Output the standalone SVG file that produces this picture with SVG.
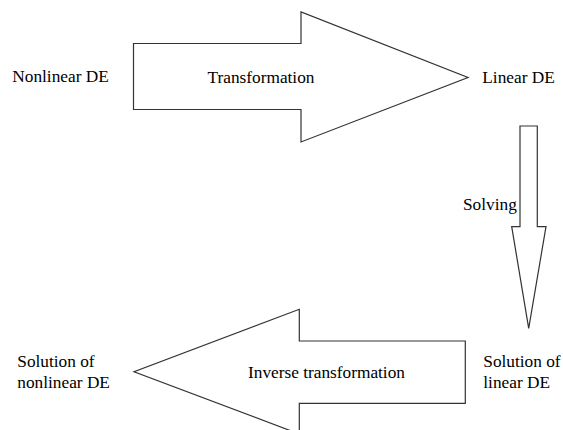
<svg xmlns="http://www.w3.org/2000/svg" width="563" height="430" viewBox="0 0 563 430">
<style>
.a{fill:#fff;stroke:#333;stroke-width:1.2;stroke-linejoin:miter}
.t{font-family:"Liberation Serif","Times New Roman",serif;font-size:17.3px;fill:#000}
</style>
<rect width="563" height="430" fill="#fff"/>
<g id="connectors">
<g id="transformation">
<polygon class="a" points="133.5,43.5 301,43.5 301,12 468,77.5 301,142 301,109.5 133.5,109.5"/>
<text class="t" x="261" y="83" text-anchor="middle">Transformation</text>
</g>
<g id="solving">
<polygon class="a" points="520,126 537.3,126 537.3,226.7 546,226.7 528.7,328.3 511.7,226.7 520,226.7"/>
<text class="t" x="463" y="210">Solving</text>
</g>
<g id="inverse">
<polygon class="a" points="465.3,341 299.3,341 299.3,309.3 134,371.7 299.3,434 299.3,403.3 465.3,403.3"/>
<text class="t" x="326.5" y="378" text-anchor="middle">Inverse transformation</text>
</g>
</g>
<g id="nonlinear-de"><text class="t" x="12.3" y="82">Nonlinear DE</text></g>
<g id="linear-de"><text class="t" x="482.3" y="83">Linear DE</text></g>
<g id="solution-linear"><text class="t" x="483.3" y="366.7">Solution of</text><text class="t" x="483.3" y="388.3">linear DE</text></g>
<g id="solution-nonlinear"><text class="t" x="17.3" y="366.7">Solution of</text><text class="t" x="17.3" y="388.3">nonlinear DE</text></g>
</svg>
